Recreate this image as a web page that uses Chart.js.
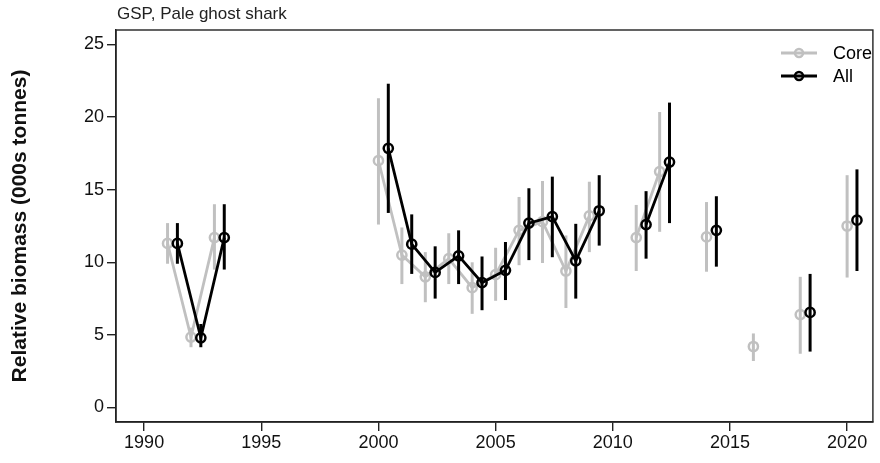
<!DOCTYPE html>
<html lang="en">
<head>
    <meta charset="UTF-8">
    <title>GSP, Pale ghost shark</title>
    <script src="https://cdn.jsdelivr.net/npm/chart.js@4.4.0/dist/chart.umd.min.js"></script>
    <style>
        body {
            margin: 0;
            background-color: #ffffff;
        }
        .chart-box {
            width: 880px;
            height: 463px;
        }
    </style>
</head>
<body>
    <div class="chart-box">
        <canvas id="biomassChart"></canvas>
    </div>

    <script>
        // Survey years (a null value breaks the line between non-consecutive surveys)
        const years = [1991, 1992, 1993, 1994, 2000, 2001, 2002, 2003, 2004, 2005, 2006, 2007, 2008, 2009, 2010,
                       2011, 2012, 2013, 2014, 2015, 2016, 2017, 2018, 2019, 2020];

        // Core strata
        const coreValues = [11.3, 4.85, 11.7, null, 17.0, 10.5, 9.0, 10.25, 8.25, 9.15, 12.2, 12.8, 9.4, 13.2, null,
                            11.7, 16.25, null, 11.75, null, 4.2, null, 6.4, null, 12.5];
        const coreLow = [9.9, 4.15, 9.5, null, 12.6, 8.5, 7.25, 8.5, 6.45, 7.35, 9.8, 9.95, 6.85, 10.7, null,
                         9.4, 12.1, null, 9.35, null, 3.2, null, 3.7, null, 8.95];
        const coreHigh = [12.7, 5.5, 14.0, null, 21.3, 12.4, 10.7, 12.0, 10.0, 11.0, 14.5, 15.6, 11.85, 15.55, null,
                          13.95, 20.35, null, 14.15, null, 5.1, null, 9.0, null, 16.0];

        // All strata
        const allValues = [11.3, 4.8, 11.7, null, 17.85, 11.25, 9.3, 10.45, 8.6, 9.45, 12.7, 13.15, 10.1, 13.55, null,
                           12.6, 16.9, null, 12.2, null, null, null, 6.55, null, 12.9];
        const allLow = [9.9, 4.15, 9.5, null, 13.4, 9.2, 7.5, 8.5, 6.7, 7.4, 10.15, 10.35, 7.5, 11.15, null,
                        10.25, 12.7, null, 9.7, null, null, null, 3.85, null, 9.4];
        const allHigh = [12.7, 5.75, 14.0, null, 22.3, 13.3, 11.1, 12.2, 10.4, 11.4, 15.1, 15.9, 12.65, 16.0, null,
                         14.9, 21.0, null, 14.55, null, null, null, 9.2, null, 16.4];

        const yTicks = [0, 5, 10, 15, 20, 25];
        const xTicks = [1990, 1995, 2000, 2005, 2010, 2015, 2020];

        const GREY = '#c0c0c0';
        const DODGE = 0.42; // "All" series is shifted right a little
        const FONT = '"Liberation Sans", Arial, sans-serif';

        function toPoints(vals, lo, hi, shift) {
            return years.map((yr, i) => ({ x: yr + shift, y: vals[i], lo: lo[i], hi: hi[i] }));
        }

        // vertical CI bars, drawn just before each dataset
        const errorBars = {
            id: 'errorBars',
            beforeDatasetDraw(chart, args) {
                const ds = chart.data.datasets[args.index];
                const { ctx, scales: { x, y } } = chart;
                ctx.save();
                ctx.strokeStyle = ds.borderColor;
                ctx.lineWidth = 3;
                ds.data.forEach(p => {
                    if (p.lo == null) return;
                    const px = x.getPixelForValue(p.x);
                    ctx.beginPath();
                    ctx.moveTo(px, y.getPixelForValue(p.lo));
                    ctx.lineTo(px, y.getPixelForValue(p.hi));
                    ctx.stroke();
                });
                ctx.restore();
            }
        };

        // box, title and R-style legend
        const decorations = {
            id: 'decorations',
            afterDraw(chart) {
                const { ctx, chartArea: a } = chart;
                ctx.save();
                ctx.strokeStyle = '#222';
                ctx.lineWidth = 1.4;
                ctx.strokeRect(a.left, a.top, a.right - a.left, a.bottom - a.top);

                ctx.fillStyle = '#222';
                ctx.font = '17px ' + FONT;
                ctx.textBaseline = 'middle';
                ctx.textAlign = 'left';
                ctx.fillText('GSP, Pale ghost shark', a.left + 1, 14);

                const items = [
                    { label: 'Core', color: GREY, y: 53 },
                    { label: 'All', color: '#000', y: 76 }
                ];
                ctx.font = '18px ' + FONT;
                items.forEach(it => {
                    ctx.strokeStyle = it.color;
                    ctx.lineWidth = 2.8;
                    ctx.beginPath();
                    ctx.moveTo(781, it.y);
                    ctx.lineTo(817, it.y);
                    ctx.stroke();
                    ctx.lineWidth = 2.5;
                    ctx.beginPath();
                    ctx.arc(799, it.y, 4, 0, Math.PI * 2);
                    ctx.stroke();
                    ctx.fillStyle = '#000';
                    ctx.fillText(it.label, 833, it.y + 1);
                });
                ctx.restore();
            }
        };

        const ctx = document.getElementById('biomassChart').getContext('2d');
        const biomassChart = new Chart(ctx, {
            type: 'line',
            data: {
                datasets: [
                    {
                        label: 'All',
                        data: toPoints(allValues, allLow, allHigh, DODGE),
                        borderColor: '#000000',
                        borderWidth: 2.8,
                        pointRadius: 4.6,
                        pointBorderWidth: 2.5,
                        pointBackgroundColor: 'rgba(0,0,0,0)',
                        order: 1
                    },
                    {
                        label: 'Core',
                        data: toPoints(coreValues, coreLow, coreHigh, 0),
                        borderColor: GREY,
                        borderWidth: 2.8,
                        pointRadius: 4.6,
                        pointBorderWidth: 2.5,
                        pointBackgroundColor: 'rgba(0,0,0,0)',
                        order: 2
                    }
                ]
            },
            options: {
                responsive: true,
                maintainAspectRatio: false,
                animation: false,
                layout: {
                    padding: { left: 8, right: 4, top: 30, bottom: 0 }
                },
                plugins: {
                    legend: { display: false },
                    tooltip: { enabled: false }
                },
                scales: {
                    x: {
                        type: 'linear',
                        min: 1988.8,
                        max: 2021.1,
                        afterBuildTicks: s => { s.ticks = xTicks.map(v => ({ value: v })); },
                        afterFit: s => { s.height = 41; },
                        grid: {
                            drawOnChartArea: false,
                            tickLength: 9,
                            color: '#222',
                            lineWidth: 1.4
                        },
                        border: { color: '#222', width: 1.4 },
                        ticks: {
                            color: '#111',
                            padding: 1,
                            maxRotation: 0,
                            font: { family: FONT, size: 18 },
                            callback: v => String(v)
                        }
                    },
                    y: {
                        min: -1,
                        max: 26,
                        afterBuildTicks: s => { s.ticks = yTicks.map(v => ({ value: v })); },
                        afterFit: s => { s.width = 108; },
                        grid: {
                            drawOnChartArea: false,
                            tickLength: 9,
                            color: '#222',
                            lineWidth: 1.4
                        },
                        border: { color: '#222', width: 1.4 },
                        ticks: {
                            color: '#111',
                            padding: 3,
                            font: { family: FONT, size: 18 }
                        },
                        title: {
                            display: true,
                            text: 'Relative biomass (000s tonnes)',
                            color: '#111',
                            padding: { top: 0, bottom: 0 },
                            font: { family: FONT, size: 21, weight: 'bold' }
                        }
                    }
                }
            },
            plugins: [errorBars, decorations]
        });
    </script>
</body>
</html>
